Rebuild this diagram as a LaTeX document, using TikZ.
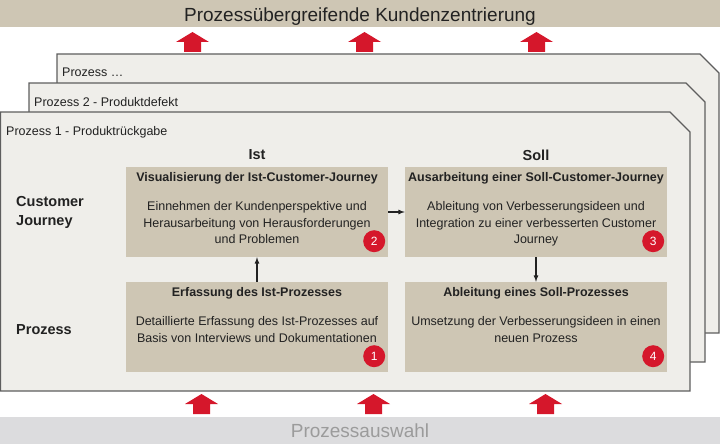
\documentclass[tikz,border=0pt]{standalone}
\usepackage{fontspec}
\setmainfont{Liberation Sans}
\usetikzlibrary{arrows}
\usetikzlibrary{calc}
\usetikzlibrary{positioning}
\definecolor{boxtan}{HTML}{CEC6B4}
\definecolor{panelgray}{HTML}{EFEEEA}
\definecolor{bordergray}{HTML}{5E5E5E}
\definecolor{arrowred}{HTML}{D5172B}
\definecolor{bandgray}{HTML}{DCDCDE}
\definecolor{labelgray}{HTML}{9B9B9B}
\definecolor{textdark}{HTML}{222222}

\begin{document}
\begin{tikzpicture}[x=1pt,y=-1pt,
		panel/.style={fill=panelgray,draw=bordergray,line width=1.2pt},
		tanbox/.style={fill=boxtan,minimum width=262pt,minimum height=90pt,inner sep=0pt},
		boxtitle/.style={font=\bfseries\fontsize{12.5}{15}\selectfont,text=textdark,inner sep=0pt,text height=9pt,text depth=2.5pt},
		boxtext/.style={font=\fontsize{12.5}{16.3}\selectfont,text=textdark,align=center,inner sep=0pt},
		badge/.style={circle,fill=arrowred,text=white,minimum size=22pt,inner sep=0pt,font=\fontsize{12}{12}\selectfont},
		rowlabel/.style={font=\bfseries\fontsize{14.5}{19}\selectfont,text=textdark,align=left,anchor=west,inner sep=0pt},
		colhead/.style={font=\bfseries\fontsize{14.5}{17}\selectfont,text=textdark},
		panellabel/.style={font=\fontsize{12.5}{15}\selectfont,text=textdark,anchor=base west,inner sep=0pt},
		blockarrow/.style={fill=arrowred},
		flow/.style={-latex,line width=1.2pt,draw=textdark}]
		\useasboundingbox (0,0) rectangle (720,444);
		\fill[boxtan] (0,0) rectangle (720,27);
		\node[anchor=base,inner sep=0pt,font=\fontsize{19}{19}\selectfont,text=textdark] (kundenzentrierung) at (360,21.7) {Prozessübergreifende Kundenzentrierung};
		\fill[bandgray] (0,417) rectangle (720,444);
		\node[anchor=base,inner sep=0pt,font=\fontsize{19}{19}\selectfont,text=labelgray] (prozessauswahl) at (360,437) {Prozessauswahl};
		\foreach \x in {192.5,364.5,536.5}
			\fill[blockarrow] (\x,32) -- ++(16.5,10) -- ++(-8,0) -- ++(0,10) -- ++(-17,0) -- ++(0,-10) -- ++(-8,0) -- cycle;
		\foreach \x in {201.5,373.5,545.5}
			\fill[blockarrow] (\x,394) -- ++(16.5,10) -- ++(-8,0) -- ++(0,10) -- ++(-17,0) -- ++(0,-10) -- ++(-8,0) -- cycle;

		\draw[panel] (57,54) -- (700,54) -- (719,73) -- (719,333) -- (57,333) -- cycle;
		\draw[panel] (29,83) -- (686,83) -- (705,102) -- (705,362) -- (29,362) -- cycle;
		\draw[panel] (0.6,112) -- (670,112) -- (690,132) -- (690,391) -- (0.6,391) -- cycle;
		\node[panellabel] (prozessweitere) at (62,77) {Prozess …};
		\node[panellabel] (prozesszwei) at (34,106) {Prozess 2 - Produktdefekt};
		\node[panellabel] (prozesseins) at (6,135) {Prozess 1 - Produktrückgabe};

		\node[colhead] (ist) at (257,155) {Ist};
		\node[colhead] (soll) at (536,155) {Soll};
		\node[rowlabel] (customerjourney) at (16,212.75) {Customer\\Journey};
		\node[rowlabel] (prozess) at (16,330) {Prozess};

		\node[tanbox] (istjourney) at (257,212) {};
		\node[tanbox] (solljourney) at (536,212) {};
		\node[tanbox] (istprozess) at (257,327) {};
		\node[tanbox] (sollprozess) at (536,327) {};

		\node[boxtitle,below=5.5pt of istjourney.north] (istjourneytitle) {Visualisierung der Ist-Customer-Journey};
		\node[boxtext,below=17.5pt of istjourneytitle] (istjourneytext) {Einnehmen der Kundenperspektive und\\Herausarbeitung von Herausforderungen\\und Problemen};
		\node[boxtitle,below=5.5pt of solljourney.north] (solljourneytitle) {Ausarbeitung einer Soll-Customer-Journey};
		\node[boxtext,below=17.5pt of solljourneytitle] (solljourneytext) {Ableitung von Verbesserungsideen und\\Integration zu einer verbesserten Customer\\Journey};
		\node[boxtitle,below=5.5pt of istprozess.north] (istprozesstitle) {Erfassung des Ist-Prozesses};
		\node[boxtext,below=17.5pt of istprozesstitle] (istprozesstext) {Detaillierte Erfassung des Ist-Prozesses auf\\Basis von Interviews und Dokumentationen};
		\node[boxtitle,below=5.5pt of sollprozess.north] (sollprozesstitle) {Ableitung eines Soll-Prozesses};
		\node[boxtext,below=17.5pt of sollprozesstitle] (sollprozesstext) {Umsetzung der Verbesserungsideen in einen\\neuen Prozess};

		\node[badge] (badgeeins) at ($(istprozess.south east)+(-14,-16)$) {1};
		\node[badge] (badgezwei) at ($(istjourney.south east)+(-14,-16)$) {2};
		\node[badge] (badgedrei) at ($(solljourney.south east)+(-14,-16)$) {3};
		\node[badge] (badgevier) at ($(sollprozess.south east)+(-14,-16)$) {4};

		\draw[flow] (istprozess) -- (istjourney);
		\draw[flow] (istjourney) -- (solljourney);
		\draw[flow] (solljourney) -- (sollprozess);
	\end{tikzpicture}
\end{document}
